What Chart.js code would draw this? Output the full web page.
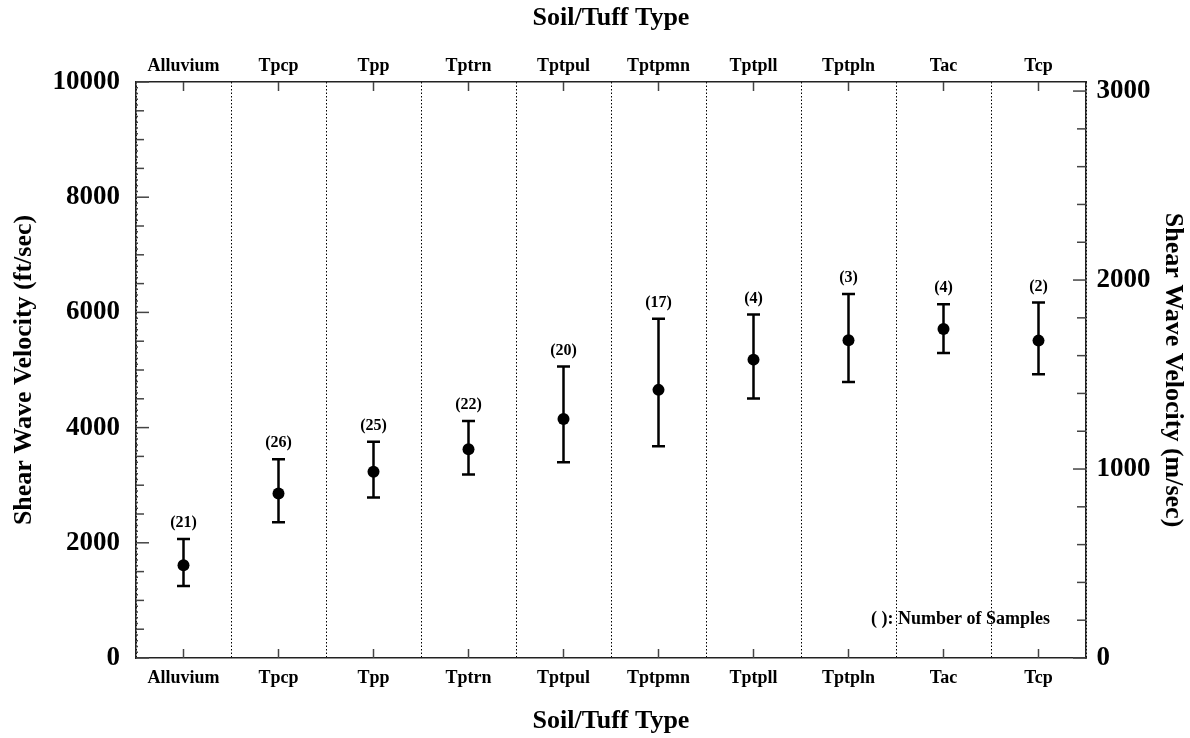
<!DOCTYPE html>
<html>
<head>
<meta charset="utf-8">
<title>Shear Wave Velocity by Soil/Tuff Type</title>
<script src="https://cdn.jsdelivr.net/npm/chart.js@4/dist/chart.umd.min.js"></script>
<style>
  html, body { margin: 0; padding: 0; background: #ffffff; }
  #wrap { width: 1190px; height: 738px; position: relative; }
</style>
</head>
<body>
<div id="wrap"><canvas id="chart"></canvas></div>
<script>
// Soil / tuff units along the horizontal axis
const unitLabels = ['Alluvium', 'Tpcp', 'Tpp', 'Tptrn', 'Tptpul', 'Tptpmn', 'Tptpll', 'Tptpln', 'Tac', 'Tcp'];
// Mean shear wave velocity (ft/sec)
const meanVel = [1610, 2855, 3235, 3625, 4150, 4655, 5180, 5515, 5710, 5510];
// Upper and lower ends of the spread bars (ft/sec)
const upperVel = [2065, 3450, 3755, 4115, 5060, 5890, 5965, 6320, 6140, 6170];
const lowerVel = [1250, 2355, 2785, 3185, 3400, 3675, 4505, 4790, 5295, 4925];
// Number of samples per unit
const sampleCounts = [21, 26, 25, 22, 20, 17, 4, 3, 4, 2];
// Axis ranges and tick values
const ftMax = 10000;
const ftStep = 2000;
const mTicks = [0, 1000, 2000, 3000];
const FT_TO_M = 0.3048;

const FONT = "'Liberation Serif', 'Times New Roman', serif";
const AXIS_COLOR = '#222222';
const TICK_COLOR = '#444444';

// Inward tick marks, spread bars, sample counts and the note text
const overlayPlugin = {
  id: 'overlay',
  beforeDatasetsDraw(chart) {
    const ctx = chart.ctx;
    const x = chart.scales.x, y = chart.scales.y;
    ctx.save();
    ctx.strokeStyle = '#000';
    ctx.lineWidth = 2.5;
    ctx.lineCap = 'butt';
    const cap = 6.5;
    for (let i = 0; i < unitLabels.length; i++) {
      const px = x.getPixelForValue(i);
      const yHi = y.getPixelForValue(upperVel[i]);
      const yLo = y.getPixelForValue(lowerVel[i]);
      ctx.beginPath();
      ctx.moveTo(px, yHi); ctx.lineTo(px, yLo);
      ctx.moveTo(px - cap, yHi); ctx.lineTo(px + cap, yHi);
      ctx.moveTo(px - cap, yLo); ctx.lineTo(px + cap, yLo);
      ctx.stroke();
    }
    ctx.restore();
  },
  afterDatasetsDraw(chart) {
    const ctx = chart.ctx;
    const {x, xTop, y, yR} = chart.scales;
    const area = chart.chartArea;
    ctx.save();
    // sample counts above each bar
    ctx.fillStyle = '#000';
    ctx.font = 'bold 16px ' + FONT;
    ctx.textAlign = 'center';
    ctx.textBaseline = 'middle';
    for (let i = 0; i < unitLabels.length; i++) {
      const px = x.getPixelForValue(i);
      const yHi = y.getPixelForValue(upperVel[i]);
      ctx.fillText('(' + sampleCounts[i] + ')', px, yHi - 16);
    }
    // note in the lower right corner
    ctx.font = 'bold 18px ' + FONT;
    ctx.textAlign = 'right';
    ctx.fillText('( ): Number of Samples', area.right - 36, area.bottom - 39);

    // tick marks
    ctx.strokeStyle = TICK_COLOR;
    ctx.lineWidth = 1.5;
    const line = (x1, y1, x2, y2) => { ctx.beginPath(); ctx.moveTo(x1, y1); ctx.lineTo(x2, y2); ctx.stroke(); };
    for (let i = 0; i < unitLabels.length; i++) {
      const pb = x.getPixelForValue(i);
      line(pb, area.bottom, pb, area.bottom - 9);
      const pt = xTop.getPixelForValue(i);
      line(pt, area.top, pt, area.top + 9);
    }
    for (let v = 0; v <= ftMax; v += 100) {
      const py = y.getPixelForValue(v);
      let len = 2;
      if (v % ftStep === 0) len = 13;
      else if (v % 500 === 0) len = 8;
      line(area.left, py, area.left + len, py);
    }
    for (let v = 0; v <= yR.max; v += 200) {
      const py = yR.getPixelForValue(v);
      const len = v % 1000 === 0 ? 13 : 9;
      line(area.right, py, area.right - len, py);
    }
    ctx.restore();
  }
};

const plainNumber = (v) => String(Math.round(v));

const ctx = document.getElementById('chart').getContext('2d');
new Chart(ctx, {
  type: 'line',
  data: {
    labels: unitLabels,
    datasets: [{
      label: 'Mean velocity',
      data: meanVel,
      showLine: false,
      pointRadius: 6,
      pointHoverRadius: 6,
      pointBackgroundColor: '#000',
      pointBorderColor: '#000',
      pointBorderWidth: 0,
      xAxisID: 'x',
      yAxisID: 'y'
    }]
  },
  options: {
    responsive: true,
    maintainAspectRatio: false,
    animation: false,
    devicePixelRatio: 1,
    layout: { padding: 0 },
    plugins: {
      legend: { display: false },
      title: { display: false },
      tooltip: { enabled: false }
    },
    scales: {
      x: {
        type: 'category',
        position: 'bottom',
        offset: true,
        grid: { display: true, offset: true, color: '#000', lineWidth: 1, drawTicks: false, tickLength: 0 },
        border: { display: true, color: AXIS_COLOR, width: 1.5, dash: [1.5, 2] },
        ticks: { color: '#000', font: { family: FONT, size: 18, weight: 'bold' }, padding: 9.5, maxRotation: 0, autoSkip: false },
        title: { display: true, text: 'Soil/Tuff Type', color: '#000', font: { family: FONT, size: 26, weight: 'bold' }, padding: { top: 0, bottom: 1.5 } },
        afterFit(s) { s.height = 80; }
      },
      xTop: {
        type: 'category',
        position: 'top',
        labels: unitLabels,
        offset: true,
        grid: { display: false, drawTicks: false, tickLength: 0 },
        border: { display: true, color: AXIS_COLOR, width: 1.5 },
        ticks: { color: '#000', font: { family: FONT, size: 18, weight: 'bold' }, padding: 4.5, maxRotation: 0, autoSkip: false },
        title: { display: true, text: 'Soil/Tuff Type', color: '#000', font: { family: FONT, size: 26, weight: 'bold' }, padding: { top: 3, bottom: 0 } },
        afterFit(s) { s.height = 82; }
      },
      y: {
        type: 'linear',
        position: 'left',
        min: 0,
        max: ftMax,
        grid: { display: false, drawTicks: false, tickLength: 0 },
        border: { display: true, color: AXIS_COLOR, width: 1.5 },
        ticks: { stepSize: ftStep, color: '#000', font: { family: FONT, size: 27, weight: 'bold' }, padding: 16, callback: plainNumber },
        title: { display: true, text: 'Shear Wave Velocity (ft/sec)', color: '#000', font: { family: FONT, size: 26, weight: 'bold' }, padding: { top: 9, bottom: 0 } },
        afterFit(s) { s.width = 136; }
      },
      yR: {
        type: 'linear',
        position: 'right',
        min: 0,
        max: ftMax * FT_TO_M,
        grid: { display: false, drawTicks: false, tickLength: 0 },
        border: { display: true, color: AXIS_COLOR, width: 1.5 },
        ticks: { autoSkip: false, color: '#000', font: { family: FONT, size: 27, weight: 'bold' }, padding: 10.5, callback: plainNumber },
        afterBuildTicks(s) { s.ticks = mTicks.map(v => ({ value: v })); },
        title: { display: true, text: 'Shear Wave Velocity (m/sec)', color: '#000', font: { family: FONT, size: 26, weight: 'bold' }, padding: { top: 2, bottom: 0 } },
        afterFit(s) { s.width = 104; }
      }
    }
  },
  plugins: [overlayPlugin]
});
</script>
</body>
</html>
